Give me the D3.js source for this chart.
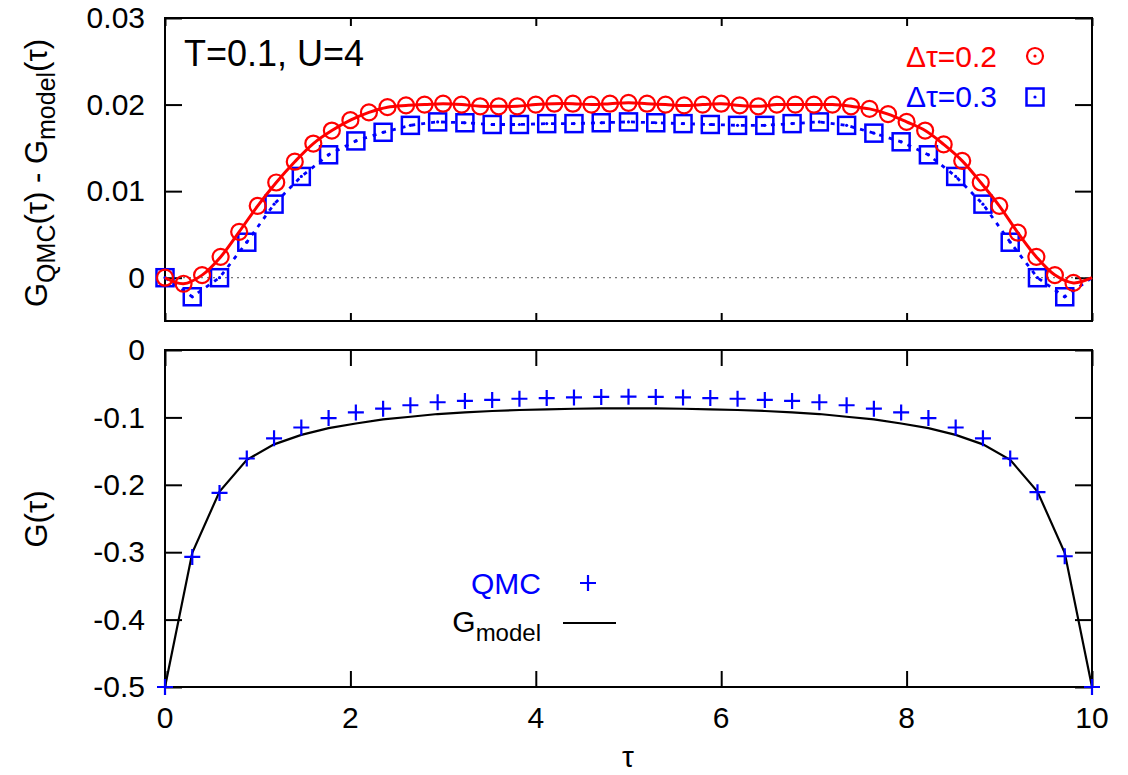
<!DOCTYPE html>
<html>
<head>
<meta charset="utf-8">
<script src="https://cdn.jsdelivr.net/npm/d3@7"></script>
<style>
  html, body { margin: 0; padding: 0; background: #fff; }
  svg { display: block; font-family: "Liberation Sans", Arial, Helvetica, sans-serif; }
</style>
</head>
<body>
<svg id="chart" width="1128" height="775"></svg>
<script>
// Imaginary-time grid: beta = 1/T = 10
const beta = 10;
const slicesFine = 50;   // Δτ = 0.2
const slicesCoarse = 34; // Δτ ≈ 0.3

// G_QMC(τ) - G_model(τ) for Δτ = 0.2
const diffFine = [0, -0.0007, 0.0003, 0.0024, 0.0053, 0.0083, 0.0110, 0.0134, 0.0155, 0.0170,
  0.0182, 0.0191, 0.0197, 0.0199, 0.0200, 0.0201, 0.0200, 0.0198, 0.0198, 0.0198,
  0.0200, 0.0201, 0.0201, 0.0200, 0.0201, 0.0202, 0.0201, 0.0200, 0.0199, 0.0200,
  0.0201, 0.0199, 0.0198, 0.0200, 0.0200, 0.0200, 0.0200, 0.0198, 0.0195, 0.0189,
  0.0180, 0.0170, 0.0154, 0.0135, 0.0110, 0.0083, 0.0052, 0.0024, 0.0003, -0.0006, 0];

// G_QMC(τ) - G_model(τ) for Δτ = 0.3
const diffCoarse = [0, -0.0022, 0.0000, 0.0041, 0.0085, 0.0117, 0.0142, 0.0158, 0.0168, 0.0176,
  0.0180, 0.0179, 0.0177, 0.0177, 0.0178, 0.0178, 0.0179, 0.0180, 0.0179, 0.0178,
  0.0177, 0.0176, 0.0176, 0.0178, 0.0180, 0.0176, 0.0167, 0.0157, 0.0142, 0.0117,
  0.0085, 0.0041, 0.0000, -0.0022, 0];

// Green's functions on the coarse grid
const gQMC = [-0.5, -0.307, -0.212, -0.161, -0.131, -0.115, -0.101, -0.0926, -0.087, -0.082,
  -0.0775, -0.0755, -0.074, -0.0723, -0.0713, -0.0703, -0.0696, -0.0693, -0.0696, -0.0703,
  -0.0713, -0.0723, -0.074, -0.0755, -0.0775, -0.082, -0.087, -0.0926, -0.101, -0.115,
  -0.131, -0.161, -0.211, -0.306, -0.5];
const gModel = [-0.5, -0.301, -0.210, -0.163, -0.140, -0.126, -0.116, -0.109, -0.103, -0.099,
  -0.095, -0.0925, -0.0905, -0.089, -0.088, -0.0872, -0.0867, -0.0865, -0.0867, -0.0872,
  -0.088, -0.089, -0.0905, -0.0925, -0.095, -0.099, -0.103, -0.109, -0.116, -0.126,
  -0.140, -0.163, -0.210, -0.301, -0.5];

const xTicks = [0, 2, 4, 6, 8, 10];
const yTicksTop = [0, 0.01, 0.02, 0.03];
const yTicksTopLabels = ["0", "0.01", "0.02", "0.03"];
const yTicksBottom = [0, -0.1, -0.2, -0.3, -0.4, -0.5];
const yTicksBottomLabels = ["0", "-0.1", "-0.2", "-0.3", "-0.4", "-0.5"];

const tauFine = d3.range(slicesFine + 1).map(i => i * beta / slicesFine);
const tauCoarse = d3.range(slicesCoarse + 1).map(i => i * beta / slicesCoarse);

const RED = "#ff0000", BLUE = "#0000ff";
const svg = d3.select("#chart");

const x = d3.scaleLinear().domain([0, 10]).range([165, 1092]);
const yTop = d3.scaleLinear().domain([-0.005, 0.03]).range([321, 18]);
const yBot = d3.scaleLinear().domain([-0.5, 0]).range([687, 350]);

function panel(y, tickLenX, yTicks, yLabels) {
  const g = svg.append("g");
  const [y0, y1] = y.range();
  // inward ticks on all four sides
  const axB = d3.axisBottom(x).tickValues(xTicks).tickSize(-tickLenX).tickFormat("");
  const axT = d3.axisTop(x).tickValues(xTicks).tickSize(-tickLenX).tickFormat("");
  const axL = d3.axisLeft(y).tickValues(yTicks).tickSize(-17).tickFormat((d, i) => yLabels[i]).tickPadding(20);
  const axR = d3.axisRight(y).tickValues(yTicks).tickSize(-17).tickFormat("");
  g.append("g").attr("transform", `translate(0,${y0})`).call(axB);
  g.append("g").attr("transform", `translate(0,${y1})`).call(axT);
  g.append("g").attr("transform", `translate(${x.range()[0]},0)`).call(axL);
  g.append("g").attr("transform", `translate(${x.range()[1]},0)`).call(axR);
  g.selectAll(".domain").remove();
  g.selectAll(".tick line").attr("stroke", "#000").attr("stroke-width", 2);
  g.selectAll(".tick text").attr("font-size", 30).attr("fill", "#000")
    .attr("font-family", "Liberation Sans, Arial, sans-serif");
  g.append("rect").attr("x", x.range()[0]).attr("y", y1)
    .attr("width", x.range()[1] - x.range()[0]).attr("height", y0 - y1)
    .attr("fill", "none").attr("stroke", "#000").attr("stroke-width", 2);
  return g;
}

// ---------- upper panel: difference ----------
const upper = panel(yTop, 8, yTicksTop, yTicksTopLabels);
upper.append("line").attr("x1", x(0)).attr("x2", x(10)).attr("y1", yTop(0)).attr("y2", yTop(0))
  .attr("stroke", "#555").attr("stroke-width", 1).attr("stroke-dasharray", "2,4");

const coarsePts = tauCoarse.map((t, i) => [t, diffCoarse[i]]);
const finePts = tauFine.map((t, i) => [t, diffFine[i]]);

upper.append("path").datum(coarsePts)
  .attr("d", d3.line().x(d => x(d[0])).y(d => yTop(d[1])))
  .attr("fill", "none").attr("stroke", BLUE).attr("stroke-width", 2.8).attr("stroke-dasharray", "4,6");
upper.selectAll(".sq").data(coarsePts.slice(0, -1)).enter().append("rect")
  .attr("x", d => x(d[0]) - 8.5).attr("y", d => yTop(d[1]) - 8.5)
  .attr("width", 17).attr("height", 17)
  .attr("fill", "none").attr("stroke", BLUE).attr("stroke-width", 2.5);
upper.selectAll(".sqd").data(coarsePts.slice(0, -1)).enter().append("circle")
  .attr("cx", d => x(d[0])).attr("cy", d => yTop(d[1])).attr("r", 1.6).attr("fill", BLUE);

upper.append("path").datum(finePts)
  .attr("d", d3.line().curve(d3.curveCatmullRom.alpha(0.5)).x(d => x(d[0])).y(d => yTop(d[1])))
  .attr("fill", "none").attr("stroke", RED).attr("stroke-width", 3);
upper.selectAll(".ci").data(finePts.slice(0, -1)).enter().append("circle")
  .attr("cx", d => x(d[0])).attr("cy", d => yTop(d[1])).attr("r", 8)
  .attr("fill", "none").attr("stroke", RED).attr("stroke-width", 2.2);

// parameters label
svg.append("text").attr("x", 184).attr("y", 66).attr("font-size", 36).text("T=0.1, U=4");

// legend of the upper panel
svg.append("text").attr("x", 997).attr("y", 67).attr("text-anchor", "end")
  .attr("font-size", 30).attr("fill", RED).text("Δτ=0.2");
svg.append("circle").attr("cx", 1035).attr("cy", 56).attr("r", 8)
  .attr("fill", "none").attr("stroke", RED).attr("stroke-width", 2.2);
svg.append("circle").attr("cx", 1035).attr("cy", 56).attr("r", 1.6).attr("fill", RED);
svg.append("text").attr("x", 997).attr("y", 107).attr("text-anchor", "end")
  .attr("font-size", 30).attr("fill", BLUE).text("Δτ=0.3");
svg.append("rect").attr("x", 1035 - 8.5).attr("y", 97 - 8.5).attr("width", 17).attr("height", 17)
  .attr("fill", "none").attr("stroke", BLUE).attr("stroke-width", 2.5);
svg.append("circle").attr("cx", 1035).attr("cy", 97).attr("r", 1.6).attr("fill", BLUE);

// y label of the upper panel
const yl1 = svg.append("text").attr("transform", "translate(47,173) rotate(-90)")
  .attr("text-anchor", "middle").attr("font-size", 31);
yl1.append("tspan").text("G");
yl1.append("tspan").attr("dy", 8).attr("font-size", 25).text("QMC");
yl1.append("tspan").attr("dy", -8).text("(τ) - G");
yl1.append("tspan").attr("dy", 8).attr("font-size", 25).text("model");
yl1.append("tspan").attr("dy", -8).text("(τ)");

// ---------- lower panel: Green's function ----------
const lower = panel(yBot, 16, yTicksBottom, yTicksBottomLabels);

// x tick labels below the lower panel
svg.selectAll(".xlab").data(xTicks).enter().append("text")
  .attr("x", d => x(d)).attr("y", 728).attr("text-anchor", "middle")
  .attr("font-size", 30).text(d => d);

const modelPts = tauCoarse.map((t, i) => [t, gModel[i]]);
const qmcPts = tauCoarse.map((t, i) => [t, gQMC[i]]);

lower.append("path").datum(modelPts)
  .attr("d", d3.line().x(d => x(d[0])).y(d => yBot(d[1])))
  .attr("fill", "none").attr("stroke", "#000").attr("stroke-width", 2.2);
lower.selectAll(".pl").data(qmcPts).enter().append("path")
  .attr("d", d => `M${x(d[0]) - 8},${yBot(d[1])}H${x(d[0]) + 8}M${x(d[0])},${yBot(d[1]) - 8}V${yBot(d[1]) + 8}`)
  .attr("stroke", BLUE).attr("stroke-width", 2.2).attr("fill", "none");

// legend of the lower panel
svg.append("text").attr("x", 541).attr("y", 594).attr("text-anchor", "end")
  .attr("font-size", 30).attr("fill", BLUE).text("QMC");
svg.append("path").attr("d", "M580,583H596M588,575V591").attr("stroke", BLUE).attr("stroke-width", 2.2);
const lg = svg.append("text").attr("x", 541).attr("y", 632).attr("text-anchor", "end").attr("font-size", 30);
lg.append("tspan").text("G");
lg.append("tspan").attr("dy", 9).attr("font-size", 24).text("model");
svg.append("line").attr("x1", 563).attr("x2", 616).attr("y1", 623).attr("y2", 623)
  .attr("stroke", "#000").attr("stroke-width", 2.2);

// y label of the lower panel
svg.append("text").attr("transform", "translate(47,519) rotate(-90)")
  .attr("text-anchor", "middle").attr("font-size", 31).text("G(τ)");

// x axis label
svg.append("text").attr("x", 628).attr("y", 767).attr("text-anchor", "middle")
  .attr("font-size", 30).text("τ");
</script>
</body>
</html>
